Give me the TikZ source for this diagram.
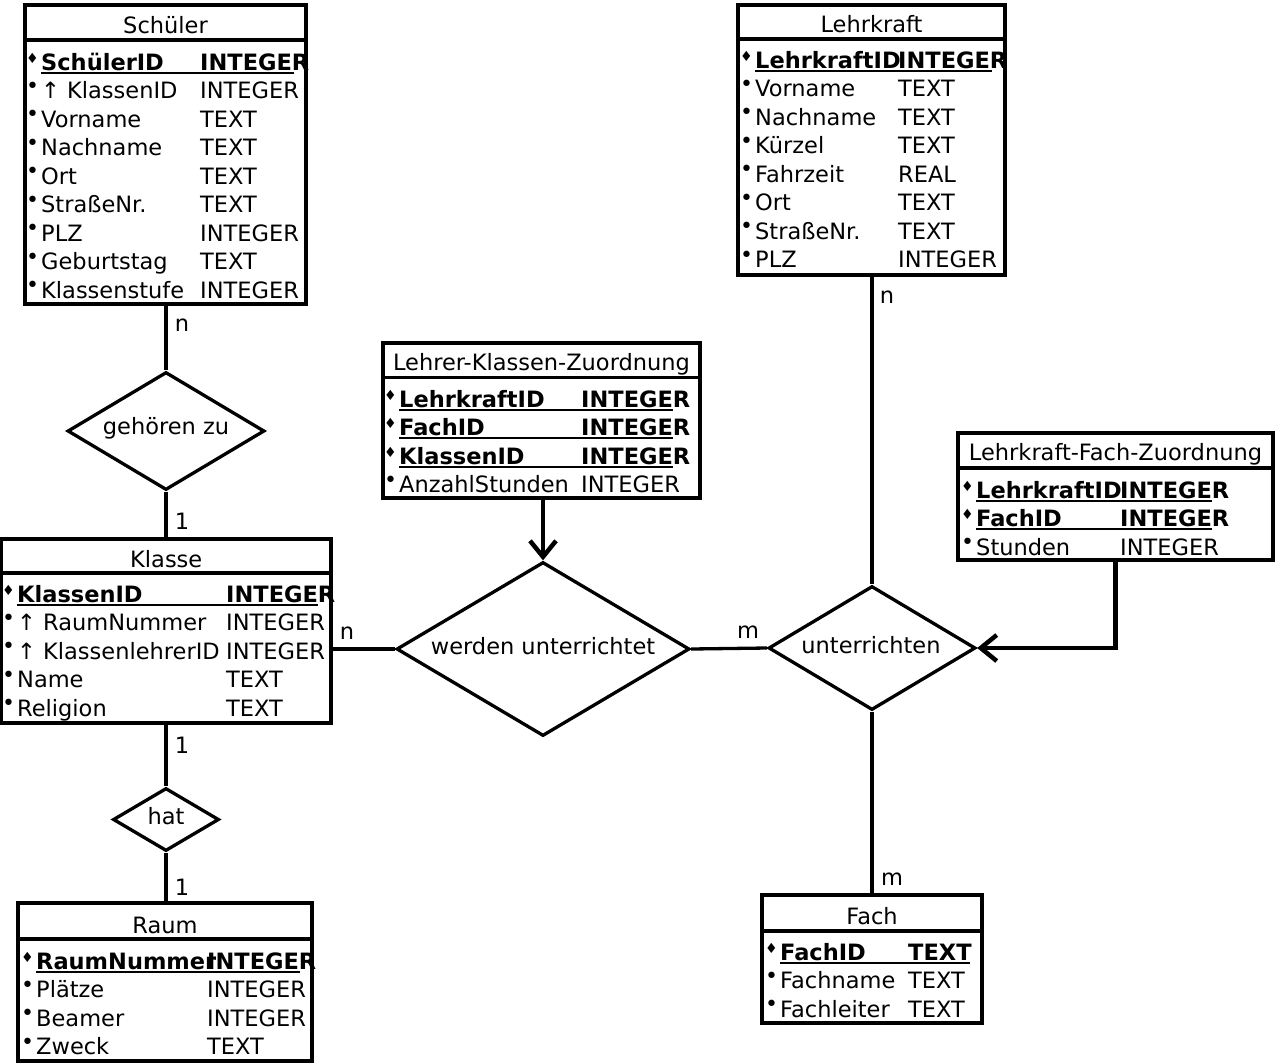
\documentclass[tikz,border=0pt]{standalone}
\usepackage{fontspec}
\setmainfont{DejaVu Sans}
\usetikzlibrary{shapes.geometric,arrows.meta}
\newcommand\tfont{\fontsize{22.5}{26}\selectfont}
\tikzset{
  tbox/.style={draw, line width=3.3pt, inner sep=0pt, rectangle},
  rel/.style={draw, line width=3.3pt, inner sep=0pt, diamond},
  txt/.style={anchor=base west, inner sep=0pt, font=\tfont},
  ttl/.style={anchor=base, inner sep=0pt, font=\tfont},
  lbl/.style={inner sep=0pt, font=\tfont},
  bul/.style={inner sep=0pt, font=\fontsize{22}{22}\selectfont},
  kbul/.style={inner sep=0pt, font=\fontsize{14}{14}\selectfont},
  conn/.style={line width=3.3pt},
  arr/.style={line width=4.5pt, -{Straight Barb[length=16pt,width=26pt]}},
  uline/.style={line width=2pt},
  sep/.style={line width=3.3pt}
}
% #1 prefix, #2 name x, #3 type x, #4 baseline, #5 name, #6 type
\newcommand\attrrow[6]{%
  \node[bul] (#1b) at (#2-8.5,#4-11) {•};
  \node[txt] (#1n) at (#2,#4) {#5};
  \node[txt] (#1t) at (#3,#4) {#6};}
% #7 underline end
\newcommand\keyrow[7]{%
  \node[kbul] (#1b) at (#2-8.5,#4-12) {♦};
  \node[txt] (#1n) at (#2,#4) {\bfseries #5};
  \node[txt] (#1t) at (#3,#4) {\bfseries #6};
  \draw[uline] (#2,#4+2.5) -- (#7,#4+2.5);}
\begin{document}
\begin{tikzpicture}[x=1pt,y=-1pt]
\useasboundingbox (0,0) rectangle (1276,1063);

% ---------- Schüler ----------
\node[tbox, minimum width=281pt, minimum height=299pt] (s) at (165.5,154.5) {};
\draw[sep] (s.west |- 0,40) -- (s.east |- 0,40);
\node[ttl] (st) at (165.5,33) {Schüler};
\keyrow{s1}{41}{200}{70}{SchülerID}{INTEGER}{294}
\attrrow{s2}{41}{200}{98.5}{↑ KlassenID}{INTEGER}
\attrrow{s3}{41}{200}{127}{Vorname}{TEXT}
\attrrow{s4}{41}{200}{155.5}{Nachname}{TEXT}
\attrrow{s5}{41}{200}{184}{Ort}{TEXT}
\attrrow{s6}{41}{200}{212.5}{StraßeNr.}{TEXT}
\attrrow{s7}{41}{200}{241}{PLZ}{INTEGER}
\attrrow{s8}{41}{200}{269.5}{Geburtstag}{TEXT}
\attrrow{s9}{41}{200}{298}{Klassenstufe}{INTEGER}

% ---------- Lehrkraft ----------
\node[tbox, minimum width=267pt, minimum height=270pt] (l) at (871.5,140) {};
\draw[sep] (l.west |- 0,39) -- (l.east |- 0,39);
\node[ttl] (lt) at (871.5,32) {Lehrkraft};
\keyrow{l1}{755}{898}{68}{LehrkraftID}{INTEGER}{992}
\attrrow{l2}{755}{898}{96.5}{Vorname}{TEXT}
\attrrow{l3}{755}{898}{125}{Nachname}{TEXT}
\attrrow{l4}{755}{898}{153.5}{Kürzel}{TEXT}
\attrrow{l5}{755}{898}{182}{Fahrzeit}{REAL}
\attrrow{l6}{755}{898}{210.5}{Ort}{TEXT}
\attrrow{l7}{755}{898}{239}{StraßeNr.}{TEXT}
\attrrow{l8}{755}{898}{267.5}{PLZ}{INTEGER}

% ---------- Lehrer-Klassen-Zuordnung ----------
\node[tbox, minimum width=317pt, minimum height=155pt] (z) at (541.5,420.5) {};
\draw[sep] (z.west |- 0,377.5) -- (z.east |- 0,377.5);
\node[ttl] (zt) at (541.5,370) {Lehrer-Klassen-Zuordnung};
\keyrow{z1}{399}{581}{407}{LehrkraftID}{INTEGER}{673}
\keyrow{z2}{399}{581}{435.5}{FachID}{INTEGER}{673}
\keyrow{z3}{399}{581}{464}{KlassenID}{INTEGER}{673}
\attrrow{z4}{399}{581}{492.5}{AnzahlStunden}{INTEGER}

% ---------- Lehrkraft-Fach-Zuordnung ----------
\node[tbox, minimum width=315pt, minimum height=127pt] (f) at (1115.5,496.5) {};
\draw[sep] (f.west |- 0,468) -- (f.east |- 0,468);
\node[ttl] (ft) at (1115.5,460) {Lehrkraft-Fach-Zuordnung};
\keyrow{f1}{976}{1120}{498}{LehrkraftID}{INTEGER}{1212}
\keyrow{f2}{976}{1120}{526.5}{FachID}{INTEGER}{1212}
\attrrow{f3}{976}{1120}{555}{Stunden}{INTEGER}

% ---------- Klasse ----------
\node[tbox, minimum width=329.5pt, minimum height=184pt] (k) at (166.25,631) {};
\draw[sep] (k.west |- 0,573) -- (k.east |- 0,573);
\node[ttl] (kt) at (166.25,567) {Klasse};
\keyrow{k1}{17}{226}{602}{KlassenID}{INTEGER}{318}
\attrrow{k2}{17}{226}{630.5}{↑ RaumNummer}{INTEGER}
\attrrow{k3}{17}{226}{659}{↑ KlassenlehrerID}{INTEGER}
\attrrow{k4}{17}{226}{687.5}{Name}{TEXT}
\attrrow{k5}{17}{226}{716}{Religion}{TEXT}

% ---------- Raum ----------
\node[tbox, minimum width=294pt, minimum height=158pt] (r) at (165,982) {};
\draw[sep] (r.west |- 0,939) -- (r.east |- 0,939);
\node[ttl] (rt) at (165,933) {Raum};
\keyrow{r1}{36}{207}{969}{RaumNummer}{INTEGER}{300}
\attrrow{r2}{36}{207}{997.5}{Plätze}{INTEGER}
\attrrow{r3}{36}{207}{1026}{Beamer}{INTEGER}
\attrrow{r4}{36}{207}{1054.5}{Zweck}{TEXT}

% ---------- Fach ----------
\node[tbox, minimum width=220pt, minimum height=128pt] (fa) at (872,959) {};
\draw[sep] (fa.west |- 0,931) -- (fa.east |- 0,931);
\node[ttl] (fat) at (872,924) {Fach};
\keyrow{fa1}{780}{908}{960}{FachID}{TEXT}{970}
\attrrow{fa2}{780}{908}{988.5}{Fachname}{TEXT}
\attrrow{fa3}{780}{908}{1017}{Fachleiter}{TEXT}

% ---------- Relationships ----------
\node[rel, minimum width=197pt, minimum height=118pt] (gz) at (166,431) {};
\node[lbl] (gzt) at (166,428) {gehören zu};
\node[rel, minimum width=293pt, minimum height=174pt] (wu) at (543,649) {};
\node[lbl] (wut) at (543,646) {werden unterrichtet};
\node[rel, minimum width=207pt, minimum height=124pt] (u) at (872,648) {};
\node[lbl] (ut) at (871,645) {unterrichten};
\node[rel, minimum width=106pt, minimum height=63pt] (h) at (166,819.5) {};
\node[lbl] (ht) at (166,816) {hat};

% ---------- Connectors ----------
\draw[conn] (gz.north |- s.south) -- (gz.north);
\draw[conn] (gz.south) -- (gz.south |- k.north);
\draw[conn] (h.north |- k.south) -- (h.north);
\draw[conn] (h.south) -- (h.south |- r.north);
\draw[conn] (k.east |- wu.west) -- (wu.west);
\draw[conn] (wu.east) -- (u.west);
\draw[conn] (u.north |- l.south) -- (u.north);
\draw[conn] (u.south) -- (u.south |- fa.north);
\draw[arr] (wu.north |- z.south) -- (wu.north);
\draw[arr] (f.south) |- (u.east);

% ---------- Cardinalities ----------
\node[lbl] (c1) at (182,325) {n};
\node[lbl] (c2) at (182,521) {1};
\node[lbl] (c3) at (182,745) {1};
\node[lbl] (c4) at (182,887) {1};
\node[lbl] (c5) at (347,633) {n};
\node[lbl] (c6) at (748,632) {m};
\node[lbl] (c7) at (887,297) {n};
\node[lbl] (c8) at (892,879) {m};
\end{tikzpicture}
\end{document}
